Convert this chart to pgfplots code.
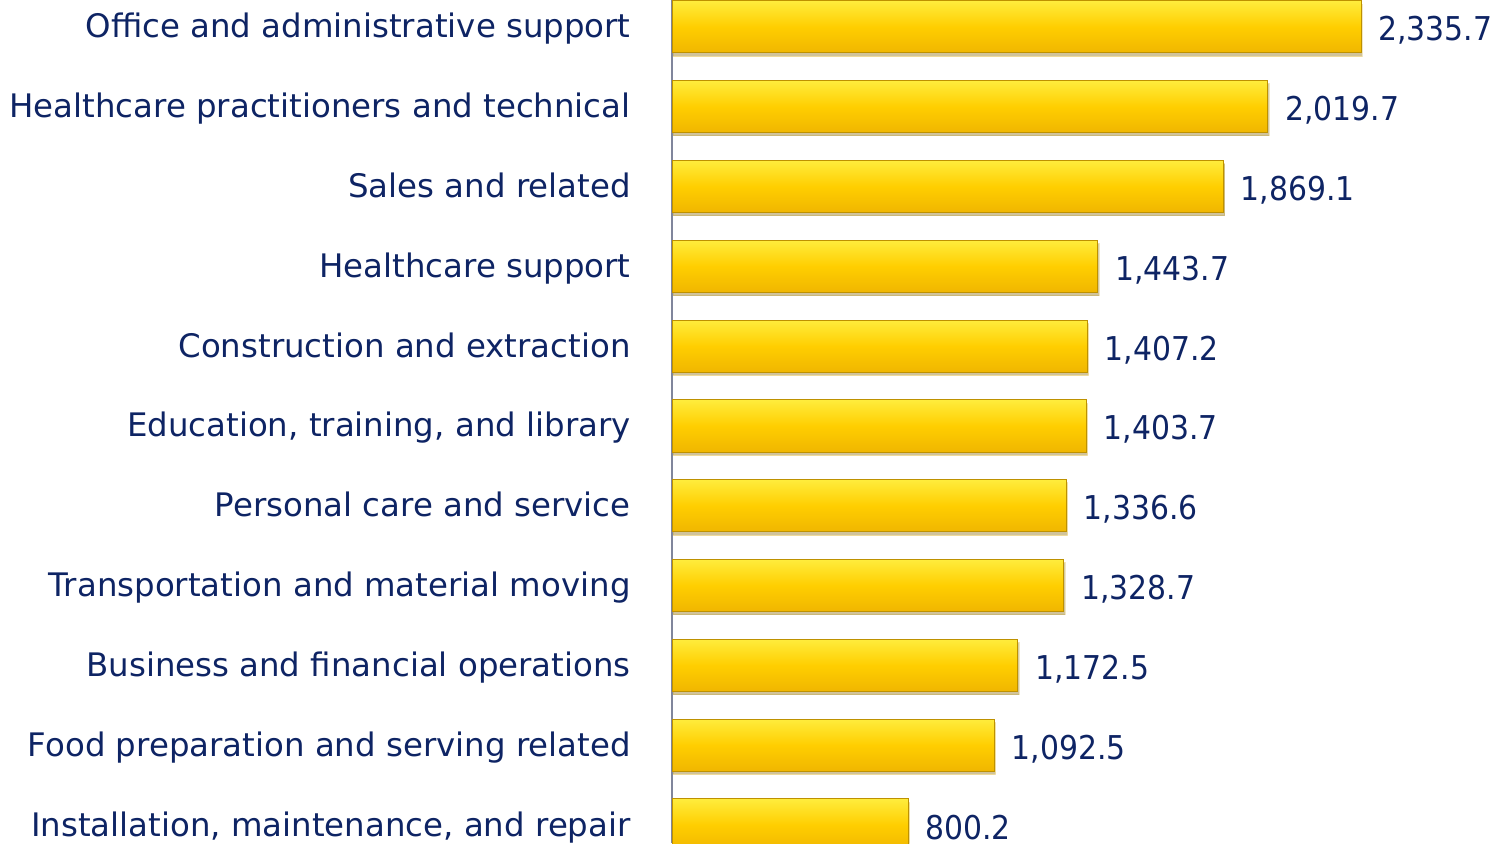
\documentclass[border=0pt]{standalone}
\usepackage{pgfplots}
\pgfplotsset{compat=1.18}
\usetikzlibrary{shadows}
\usepackage{fontspec}
\setmainfont{DejaVu Sans}
\newfontfamily\numfont[FakeStretch=0.91]{DejaVu Sans}
\definecolor{navy}{RGB}{14,36,100}
\definecolor{axgray}{RGB}{128,134,156}
\definecolor{bartop}{RGB}{255,236,60}
\definecolor{barmid}{RGB}{255,206,0}
\definecolor{barbot}{RGB}{240,182,0}
\definecolor{baredge}{RGB}{190,145,0}
\pgfplotsset{mybar/.style={draw=baredge, line width=0.5pt, top color=bartop, bottom color=barbot, middle color=barmid,
  drop shadow={shadow xshift=0.6pt, shadow yshift=-1.6pt, opacity=0.22, fill=black}}}
\begin{document}
\begin{tikzpicture}
\useasboundingbox (0,0) rectangle (754pt,421.5pt);
\clip (0,0) rectangle (754pt,421.5pt);
\begin{axis}[
  at={(336pt,0pt)}, anchor=south west,
  scale only axis, width=418pt, height=421.5pt,
  xbar, bar width=0.652, bar shift=0pt,
  xmin=0, xmax=2834, ymin=-0.2256, ymax=10.338,
  separate axis lines,
  axis x line*=bottom, x axis line style={draw=none}, xtick=\empty,
  axis y line*=left, y axis line style={draw=axgray, line width=1pt},
  ytick={0,...,10},
  yticklabels={Installation{,} maintenance{,} and repair,
    Food preparation and serving related,
    Business and financial operations,
    Transportation and material moving,
    Personal care and service,
    {Education, training, and library},
    Construction and extraction,
    Healthcare support,
    Sales and related,
    Healthcare practitioners and technical,
    Office and administrative support},
  major tick length=0pt,
  y tick label style={font=\fontsize{16.2}{19}\selectfont, text=navy, anchor=base east, inner sep=0pt, xshift=-20.5pt, yshift=-5.5pt},
  point meta=x,
  nodes near coords={\pgfmathprintnumber[fixed,fixed zerofill,precision=1,1000 sep={,},assume math mode=true]{\pgfplotspointmeta}},
  nodes near coords style={font=\numfont\fontsize{16.4}{19}\selectfont, text=navy, anchor=base west, inner sep=0pt, xshift=8.5pt, yshift=-7pt},
  clip=true,
]
\addplot[mybar] coordinates {(800.2,0)};
\addplot[mybar] coordinates {(1092.5,1)};
\addplot[mybar] coordinates {(1172.5,2)};
\addplot[mybar] coordinates {(1328.7,3)};
\addplot[mybar] coordinates {(1336.6,4)};
\addplot[mybar] coordinates {(1403.7,5)};
\addplot[mybar] coordinates {(1407.2,6)};
\addplot[mybar] coordinates {(1443.7,7)};
\addplot[mybar] coordinates {(1869.1,8)};
\addplot[mybar] coordinates {(2019.7,9)};
\addplot[mybar] coordinates {(2335.7,10)};
\end{axis}
\end{tikzpicture}
\end{document}
